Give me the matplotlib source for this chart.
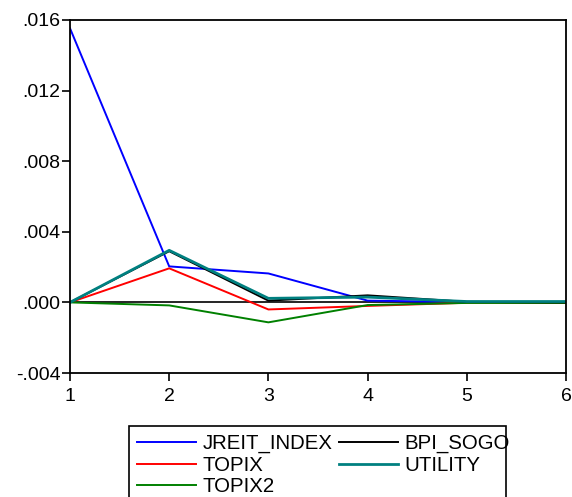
import matplotlib
matplotlib.use('Agg')
import matplotlib.pyplot as plt
from matplotlib.patches import Rectangle
import numpy as np

plt.rcParams['font.family'] = ['Liberation Sans', 'DejaVu Sans']

periods = [1, 2, 3, 4, 5, 6]
jreit = [0.01553, 0.00204, 0.00164, 0.00010, 0.00002, 0.00002]
topix = [0.0, 0.00193, -0.00040, -0.00020, -0.00002, -0.00002]
topix2 = [0.0, -0.00017, -0.00113, -0.00015, -0.00003, -0.00003]
bpi_sogo = [0.0, 0.00290, 0.00010, 0.00040, 0.00003, 0.00000]
utility = [0.0, 0.00295, 0.00023, 0.00030, 0.00005, 0.00005]

yticks = [-0.004, 0.000, 0.004, 0.008, 0.012, 0.016]
ytick_labels = ['-.004', '.000', '.004', '.008', '.012', '.016']

W, H = 572, 497
fig = plt.figure(figsize=(W / 100, H / 100), dpi=100)
ax = fig.add_axes([70 / W, 1 - 373 / H, (566 - 70) / W, (373 - 20) / H])

ax.axhline(0, color='black', lw=1.2, zorder=1)
lw = 1.4
ax.plot(periods, jreit, color='#0000ff', lw=lw, label='JREIT_INDEX')
ax.plot(periods, topix, color='#ff0000', lw=lw, label='TOPIX')
ax.plot(periods, topix2, color='#008000', lw=lw, label='TOPIX2')
ax.plot(periods, bpi_sogo, color='black', lw=lw, label='BPI_SOGO')
ax.plot(periods, utility, color='#008080', lw=lw + 0.6, label='UTILITY')

ax.set_xlim(1, 6)
ax.set_ylim(-0.004, 0.016)
ax.set_xticks(periods)
ax.set_yticks(yticks)
ax.set_yticklabels(ytick_labels)
ax.tick_params(direction='out', length=6, width=1.2, labelsize=14)
ax.tick_params(axis='x', pad=5)
ax.tick_params(axis='y', pad=1)
for s in ax.spines.values():
    s.set_linewidth(1.3)

# legend box drawn separately, text runs past its right edge like the original
fig.patches.append(Rectangle((129 / W, -0.1), (506 - 129) / W, 1 - 426 / H + 0.1,
                             transform=fig.transFigure, fill=False,
                             edgecolor='black', lw=1.2))

handles, labels = ax.get_legend_handles_labels()
leg = fig.legend(handles, labels, ncol=2, loc='upper left',
                 bbox_to_anchor=(129 / W, 1 - 426 / H),
                 fontsize=14.7, frameon=False,
                 handlelength=2.9, handletextpad=0.3, columnspacing=0.3,
                 labelspacing=0.12, borderpad=0.4, borderaxespad=0)

fig.savefig('out.png', dpi=100)
